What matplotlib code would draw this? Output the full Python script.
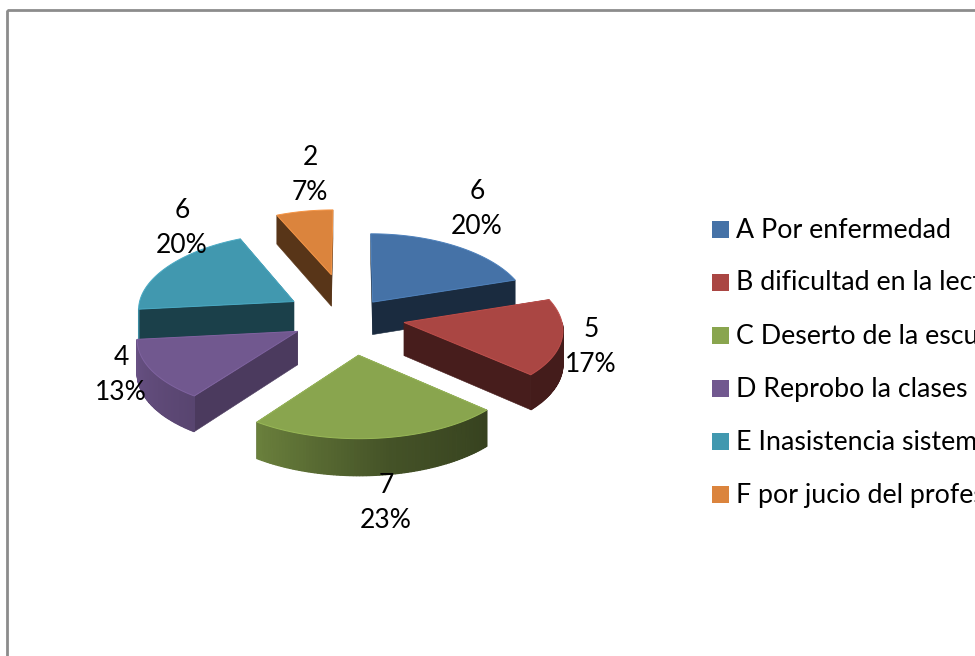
import numpy as np
import matplotlib
matplotlib.use('Agg')
import matplotlib.pyplot as plt
from matplotlib.patches import Polygon, Rectangle

categories = ['A Por enfermedad', 'B dificultad en la lectura', 'C Deserto de la escuela',
              'D Reprobo la clases', 'E Inasistencia sistematica', 'F por jucio del profesor']
values = [6, 5, 7, 4, 6, 2]
colors = ['#4572a7', '#aa4643', '#89a54e', '#71588f', '#4198af', '#db843d']

# how far each slice is pulled out, and how dark its visible cut side is
explode = [0.25, 0.35, 0.50, 0.38, 0.42, 0.60]
cutShade = [0.38, 0.42, 0.42, 0.66, 0.42, 0.40]
labelPos = [(477, 209), (591, 347), (386, 503), (121, 375), (182, 228), (310, 175)]

CX, CY = 350, 317
RADIUS = 157
TILT = 0.475
PERSPECTIVE_X = 0.082
PERSPECTIVE_Y = 0.06
DEPTH = 33
FONT = 'Lato'
LABEL_SIZE = 19
LEGEND_SIZE = 19.3


def project(planeX, planeY, drop=0.0):
    scaleX = 1 + PERSPECTIVE_X * planeY
    scaleY = 1 + PERSPECTIVE_Y * planeY
    return (CX + RADIUS * planeX * scaleX,
            CY + RADIUS * TILT * planeY * scaleY + drop * scaleX)


def shaded(color, factor):
    rgb = np.array(matplotlib.colors.to_rgb(color))
    return tuple(np.clip(rgb * factor, 0, 1))


def rimShade(theta):
    # left side of the pie catches the light, right side stays dark
    return float(np.interp(theta, [132, 170, 216, 264], [0.40, 0.50, 0.78, 0.92]))


fig = plt.figure(figsize=(9.75, 6.56), dpi=100)
ax = fig.add_axes([0, 0, 1, 1])
ax.set_xlim(0, 975)
ax.set_ylim(656, 0)
ax.axis('off')

ax.add_patch(Rectangle((7, 10), 1100, 800, fill=False, edgecolor='#8c8c8c', linewidth=2))

total = sum(values)
edges = np.concatenate([[0], np.cumsum(values)]) / total * 360

slices = []
for i in range(len(values)):
    slices.append((edges[i], edges[i + 1], explode[i], colors[i], cutShade[i]))

# painter's order, back slices first
for i in [5, 4, 0, 3, 1, 2]:
    start, end, pull, color, cut = slices[i]
    mid = np.radians((start + end) / 2)
    offX = pull * np.sin(mid)
    offY = -pull * np.cos(mid)
    thetas = np.linspace(start, end, 80)
    rad = np.radians(thetas)
    rimX = offX + np.sin(rad)
    rimY = offY - np.cos(rad)

    # cut sides
    for k in [0, -1]:
        side = [project(offX, offY), project(rimX[k], rimY[k]),
                project(rimX[k], rimY[k], DEPTH), project(offX, offY, DEPTH)]
        ax.add_patch(Polygon(side, closed=True, facecolor=shaded(color, cut),
                             edgecolor=shaded(color, cut), linewidth=0.4))

    # outer rim, only the part that faces the viewer
    for k in range(len(thetas) - 1):
        if thetas[k] < 90 or thetas[k + 1] > 265:
            continue
        quad = [project(rimX[k], rimY[k]), project(rimX[k + 1], rimY[k + 1]),
                project(rimX[k + 1], rimY[k + 1], DEPTH), project(rimX[k], rimY[k], DEPTH)]
        rimColor = shaded(color, rimShade(thetas[k]))
        ax.add_patch(Polygon(quad, closed=True, facecolor=rimColor, edgecolor=rimColor,
                             linewidth=0.9, snap=False))

    top = [project(offX, offY)] + [project(x, y) for x, y in zip(rimX, rimY)]
    ax.add_patch(Polygon(top, closed=True, facecolor=color,
                         edgecolor=shaded(color, 1.12), linewidth=0.7))

for i in range(len(values)):
    percent = '{0}%'.format(round(values[i] / total * 100))
    ax.text(labelPos[i][0], labelPos[i][1], '{0}\n{1}'.format(values[i], percent),
            ha='center', va='center', family=FONT, fontsize=LABEL_SIZE, color='black', linespacing=1.5)

# legend is placed by hand, the original runs off the right edge
for i in range(len(categories)):
    rowY = 229 + i * 53
    ax.add_patch(Rectangle((712, rowY - 8.5), 17, 17, facecolor=colors[i], edgecolor='none'))
    ax.text(736, rowY + 1, categories[i], ha='left', va='center', family=FONT,
            fontsize=LEGEND_SIZE, color='black')

fig.savefig('out.png', dpi=100)
